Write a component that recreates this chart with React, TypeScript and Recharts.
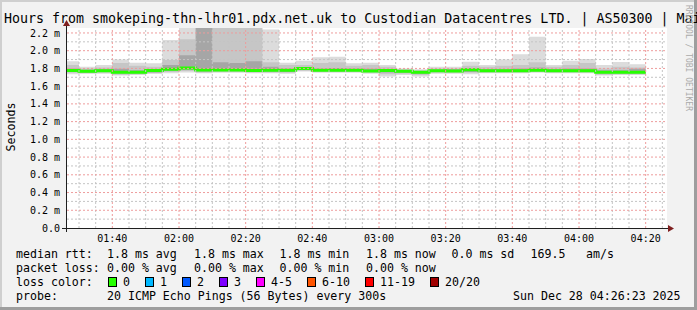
import { ComposedChart, Area, Line, XAxis, YAxis, ReferenceLine } from 'recharts'

// 5 minute slots (start time of each step)
const slots = [
  '01:25', '01:30', '01:35', '01:40', '01:45', '01:50', '01:55',
  '02:00', '02:05', '02:10', '02:15', '02:20', '02:25', '02:30', '02:35',
  '02:40', '02:45', '02:50', '02:55', '03:00', '03:05', '03:10', '03:15',
  '03:20', '03:25', '03:30', '03:35', '03:40', '03:45', '03:50', '03:55',
  '04:00', '04:05', '04:10', '04:15',
]

// smoke envelope, ms
const smokeMax = [
  1.88, 1.82, 1.84, 1.90, 1.865, 1.857, 2.12,
  2.30, 2.40, 2.40, 2.40, 2.40, 2.24, 1.865, 1.887,
  1.925, 1.932, 1.857, 1.865, 1.84, 1.80, 1.79, 1.82,
  1.82, 1.876, 1.84, 1.90, 1.96, 2.158, 1.84, 1.887,
  1.906, 1.84, 1.873, 1.846,
]
const smokeHigh = [
  1.84, 1.80, 1.81, 1.86, 1.83, 1.82, 1.895,
  2.13, 2.40, 2.28, 2.28, 2.28, 1.87, 1.84, 1.84,
  1.86, 1.87, 1.83, 1.84, 1.82, 1.79, 1.78, 1.80,
  1.80, 1.83, 1.82, 1.83, 1.84, 1.87, 1.82, 1.84,
  1.86, 1.80, 1.82, 1.81,
]
const smokeInnerHigh = [
  1.80, 1.785, 1.79, 1.795, 1.78, 1.79, 1.84,
  1.95, 2.40, 1.87, 1.86, 1.88, 1.82, 1.80, 1.815,
  1.80, 1.805, 1.80, 1.795, 1.79, 1.78, 1.772, 1.785,
  1.79, 1.80, 1.79, 1.79, 1.80, 1.81, 1.79, 1.80,
  1.80, 1.78, 1.78, 1.795,
]
const medianRtt = [
  1.776, 1.768, 1.773, 1.757, 1.757, 1.778, 1.79,
  1.805, 1.782, 1.782, 1.782, 1.777, 1.78, 1.78, 1.80,
  1.78, 1.78, 1.78, 1.772, 1.776, 1.768, 1.757, 1.773,
  1.77, 1.785, 1.775, 1.775, 1.775, 1.78, 1.775, 1.775,
  1.775, 1.757, 1.757, 1.757,
]
const smokeInnerLow = [
  1.76, 1.755, 1.76, 1.745, 1.745, 1.755, 1.775,
  1.785, 1.765, 1.77, 1.77, 1.765, 1.765, 1.76, 1.785,
  1.77, 1.77, 1.77, 1.76, 1.755, 1.755, 1.74, 1.76,
  1.76, 1.76, 1.765, 1.765, 1.765, 1.77, 1.765, 1.765,
  1.765, 1.745, 1.745, 1.745,
]
const smokeLow = [
  1.75, 1.745, 1.75, 1.73, 1.735, 1.745, 1.76,
  1.77, 1.755, 1.76, 1.76, 1.755, 1.755, 1.75, 1.775,
  1.76, 1.76, 1.76, 1.75, 1.735, 1.74, 1.725, 1.75,
  1.75, 1.75, 1.755, 1.755, 1.755, 1.76, 1.755, 1.755,
  1.755, 1.73, 1.735, 1.735,
]
const smokeMin = [
  1.735, 1.74, 1.74, 1.72, 1.725, 1.74, 1.745,
  1.755, 1.745, 1.75, 1.75, 1.745, 1.745, 1.74, 1.765,
  1.75, 1.75, 1.75, 1.74, 1.71, 1.725, 1.71, 1.74,
  1.74, 1.735, 1.745, 1.745, 1.745, 1.75, 1.745, 1.745,
  1.745, 1.72, 1.725, 1.725,
]

const yTicks = [0, 0.2, 0.4, 0.6, 0.8, 1.0, 1.2, 1.4, 1.6, 1.8, 2.0, 2.2]
const xTicks = ['01:40', '02:00', '02:20', '02:40', '03:00', '03:20', '03:40', '04:00', '04:20']

const lossColors = [
  { label: '0', color: '#26ff00' },
  { label: '1', color: '#00b8ff' },
  { label: '2', color: '#0059ff' },
  { label: '3', color: '#7e00ff' },
  { label: '4-5', color: '#ff00ff' },
  { label: '6-10', color: '#ff5500' },
  { label: '11-19', color: '#ff0000' },
  { label: '20/20', color: '#a00000' },
]

const toMin = (s: string) => {
  const [h, m] = s.split(':').map(Number)
  return h * 60 + m
}
const fmtTime = (v: number) => {
  const h = Math.floor(v / 60)
  const m = Math.round(v % 60)
  return `${String(h).padStart(2, '0')}:${String(m).padStart(2, '0')}`
}

const rows = slots.map((s, i) => ({
  t: toMin(s),
  max: smokeMax[i],
  hi: smokeHigh[i],
  ihi: smokeInnerHigh[i],
  med: medianRtt[i],
  ilo: smokeInnerLow[i],
  lo: smokeLow[i],
  min: smokeMin[i],
}))
// close the last step
rows.push({ ...rows[rows.length - 1], t: rows[rows.length - 1].t + 5 })

const X0 = 86.4
const X1 = 266.4
const YMAX = 2.256
const majorX = xTicks.map(toMin)
const minorX: number[] = []
for (let t = 90; t < X1; t += 5) if (!majorX.includes(t)) minorX.push(t)
const minorY: number[] = []
for (let i = 1; i <= 22; i += 2) minorY.push(i / 10)
const majorY = yTicks.slice(1)

const MONO = '"DejaVu Sans Mono", monospace'
const MINOR = '#c4c4c4'
const MAJOR = '#ee9c9c'

export default function App() {
  return (
    <div style={{ position: 'absolute', left: 0, top: 0, width: 697, height: 310, background: '#f2f2f2', fontFamily: MONO }}>
      <div style={{ position: 'absolute', left: 67, top: 28, width: 600, height: 200, background: '#ffffff' }} />
      <div style={{ position: 'absolute', left: 0, top: 0 }}>
        <ComposedChart width={697} height={310} data={rows} margin={{ top: 28, right: 30, left: 0, bottom: 0 }}>
          <XAxis
            dataKey="t"
            type="number"
            domain={[X0, X1]}
            allowDataOverflow
            ticks={majorX}
            tickFormatter={fmtTime}
            axisLine={false}
            tickLine={false}
            tickSize={3}
            tickMargin={4}
            height={82}
            tick={{ fill: '#000', fontSize: 10, fontFamily: MONO }}
          />
          <YAxis
            type="number"
            domain={[0, YMAX]}
            allowDataOverflow
            ticks={yTicks}
            tickFormatter={(v: number) => (v === 0 ? '0.0' : `${v.toFixed(1)} m`)}
            axisLine={false}
            tickLine={false}
            tickSize={3}
            tickMargin={4}
            width={67}
            tick={{ fill: '#000', fontSize: 10, fontFamily: MONO }}
          />
          <Area dataKey={(d: any) => [d.min, d.max]} type="stepAfter" fill="#dcdcdc" fillOpacity={1} stroke="none" isAnimationActive={false} />
          <Area dataKey={(d: any) => [d.lo, d.hi]} type="stepAfter" fill="#c6c6c6" fillOpacity={1} stroke="none" isAnimationActive={false} />
          <Area dataKey={(d: any) => [d.ilo, d.ihi]} type="stepAfter" fill="#a6a6a6" fillOpacity={1} stroke="none" isAnimationActive={false} />
          <Line dataKey="med" type="stepAfter" stroke="#26ff00" strokeWidth={3} dot={false} activeDot={false} isAnimationActive={false} />
          {minorY.map((v) => (
            <ReferenceLine key={`my${v}`} y={v} stroke={MINOR} strokeDasharray="2 2" ifOverflow="visible" />
          ))}
          {minorX.map((v) => (
            <ReferenceLine key={`mx${v}`} x={v} stroke={MINOR} strokeDasharray="2 2" ifOverflow="visible" />
          ))}
          {majorY.map((v) => (
            <ReferenceLine key={`My${v}`} y={v} stroke={MAJOR} strokeDasharray="2 2" ifOverflow="visible" />
          ))}
          {majorX.map((v) => (
            <ReferenceLine key={`Mx${v}`} x={v} stroke={MAJOR} strokeDasharray="2 2" ifOverflow="visible" />
          ))}
        </ComposedChart>
      </div>
      <svg width={697} height={310} style={{ position: 'absolute', left: 0, top: 0, pointerEvents: 'none' }}>
        {/* frame shading */}
        <rect x={0} y={0} width={697} height={2} fill="#cfcfcf" />
        <rect x={0} y={0} width={2} height={310} fill="#cfcfcf" />
        <rect x={694} y={0} width={3} height={310} fill="#9e9e9e" />
        <rect x={0} y={307} width={697} height={3} fill="#9e9e9e" />

        <text x={-12} y={22.5} fontSize={13.3} fontFamily={MONO} fill="#000">
          3 Hours from smokeping-thn-lhr01.pdx.net.uk to Custodian Datacentres LTD. | AS50300 | Mai
        </text>
        <text transform="translate(686,5) rotate(90)" fontSize={8} fontFamily={MONO} fill="#aaaaaa">
          RRDTOOL / TOBI OETIKER
        </text>
        <text transform="translate(15,127) rotate(-90)" textAnchor="middle" fontSize={11.6} fontFamily={MONO} fill="#000">
          Seconds
        </text>

        {/* axes */}
        <line x1={62} y1={228.5} x2={669} y2={228.5} stroke="#1f1f1f" strokeWidth={1} />
        <polygon points="668,225 668,232 674,228.5" fill="#7f1f1f" />
        <line x1={66.5} y1={232} x2={66.5} y2={25} stroke="#1f1f1f" strokeWidth={1} />
        <polygon points="63,26 70,26 66.5,20" fill="#7f1f1f" />

        {/* legend */}
        <g fontSize={11.6} fontFamily={MONO} fill="#000" style={{ whiteSpace: 'pre' }}>
          <text x={16} y={258}>median rtt:</text>
          <text x={107} y={258}>1.8 ms avg</text>
          <text x={194} y={258}>1.8 ms max</text>
          <text x={279.5} y={258}>1.8 ms min</text>
          <text x={366} y={258}>1.8 ms now</text>
          <text x={451.5} y={258}>0.0 ms sd</text>
          <text x={530.5} y={258}>169.5</text>
          <text x={586} y={258}>am/s</text>

          <text x={16} y={272}>packet loss:</text>
          <text x={107} y={272}>0.00 % avg</text>
          <text x={194} y={272}>0.00 % max</text>
          <text x={279.5} y={272}>0.00 % min</text>
          <text x={366} y={272}>0.00 % now</text>

          <text x={16} y={285.5}>loss color:</text>
          {lossColors.map((c, i) => {
            const bx = [108.5, 145.5, 182.5, 219.5, 256.5, 307.5, 365.5, 430.5][i]
            return (
              <g key={c.label}>
                <rect x={bx} y={277.5} width={8} height={9} fill={c.color} stroke="#000" strokeWidth={1} />
                <text x={bx + 14.5} y={285.5}>{c.label}</text>
              </g>
            )
          })}

          <text x={16} y={299.5}>probe:</text>
          <text x={107} y={299.5}>20 ICMP Echo Pings (56 Bytes) every 300s</text>
          <text x={513} y={299.5}>Sun Dec 28 04:26:23 2025</text>
        </g>
      </svg>
    </div>
  )
}
